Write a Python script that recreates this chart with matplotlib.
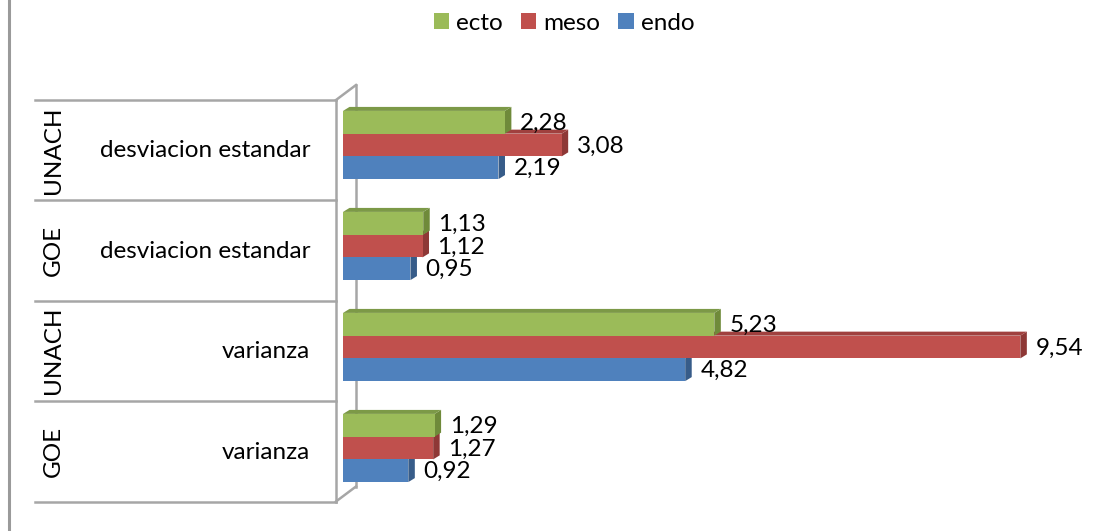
import matplotlib
matplotlib.use("Agg")
import matplotlib.pyplot as plt
from matplotlib.patches import Polygon, Patch

plt.rcParams['font.family'] = ['Lato', 'DejaVu Sans']

# ---- data (top-to-bottom order as shown) ----
groups = ["UNACH", "GOE", "UNACH", "GOE"]
measures = ["desviacion estandar", "desviacion estandar", "varianza", "varianza"]
series_names = ["ecto", "meso", "endo"]
ecto = [2.28, 1.13, 5.23, 1.29]
meso = [3.08, 1.12, 9.54, 1.27]
endo = [2.19, 0.95, 4.82, 0.92]

colors = {"ecto": "#9BBB59", "meso": "#C0504D", "endo": "#4F81BD"}
side_colors = {"ecto": "#6F8A3A", "meso": "#8E3836", "endo": "#375C89"}
top_colors = {"ecto": "#7C9947", "meso": "#A0403E", "endo": "#41699B"}

W, H = 1108, 531
DPI = 100
fig = plt.figure(figsize=(W / DPI, H / DPI), dpi=DPI)

def fx(px):
    return px / W

def fy(py):
    return 1 - py / H

# background overlay axes in pixel coordinates
bg = fig.add_axes([0, 0, 1, 1], zorder=0)
bg.set_xlim(0, W)
bg.set_ylim(H, 0)
bg.axis("off")

line_c = "#A6A6A6"
bg.plot([9, 9], [0, H], color="#9A9A9A", lw=2.2)
band_edges = [100, 199.5, 300.5, 401, 501.5]
for yb in band_edges:
    bg.plot([35, 336], [yb, yb], color=line_c, lw=1.8)
bg.plot([336, 336], [100, 501.5], color=line_c, lw=1.8)
bg.plot([356, 356], [85, 486.5], color=line_c, lw=1.8)
bg.plot([336, 356], [100, 85], color=line_c, lw=1.8)
bg.plot([336, 356], [501.5, 486.5], color=line_c, lw=1.8)

FS = 17.5
for i in range(4):
    yc = (band_edges[i] + band_edges[i + 1]) / 2
    bg.text(53.5, yc, groups[i], rotation=90, ha="center", va="center",
            fontsize=FS, color="black")
    bg.text(310, yc + 1, measures[i], ha="right", va="center", fontsize=FS,
            color="black")

# main axes: x value 0 at px 343, 71 px per unit; category spacing 101 px
ax_left, ax_w = 343, 710
ax_top, ax_h = 94.5, 404
ax = fig.add_axes([fx(ax_left), fy(ax_top + ax_h), ax_w / W, ax_h / H], zorder=1)
ax.patch.set_alpha(0)
ax.set_xlim(0, 10)
ax.set_ylim(-0.5, 3.5)
ax.axis("off")

px_x = 10 / ax_w
px_y = 4 / ax_h
ddx = 6.5 * px_x
ddy = 4.0 * px_y
h = 0.225

n = len(ecto)
centers = [n - 1 - i for i in range(n)]
order = [("endo", endo, -h), ("meso", meso, 0.0), ("ecto", ecto, h)]

z = 2
for name, vals, off in order:
    ys = [c + off for c in centers]
    ax.barh(ys, vals, height=h, color=colors[name], zorder=z, linewidth=0)
    for y, v in zip(ys, vals):
        top = y + h / 2
        bot = y - h / 2
        side = Polygon([[v, bot], [v, top], [v + ddx, top + ddy], [v + ddx, bot + ddy]],
                       closed=True, facecolor=side_colors[name], edgecolor="none",
                       zorder=z - 0.1)
        topf = Polygon([[0, top], [v, top], [v + ddx, top + ddy], [ddx, top + ddy]],
                       closed=True, facecolor=top_colors[name], edgecolor="none",
                       zorder=z - 0.1)
        ax.add_patch(side)
        ax.add_patch(topf)
        ax.annotate(f"{v:.2f}".replace(".", ","), xy=(v, y), xytext=(15, -1),
                    textcoords="offset pixels", ha="left", va="center",
                    fontsize=FS, color="black", zorder=10)
    z += 1

handles = [Patch(facecolor=colors[s], edgecolor="none") for s in series_names]
fig.legend(handles, series_names, loc="center", bbox_to_anchor=(fx(564), fy(23)),
           ncol=3, frameon=False, fontsize=FS, handlelength=0.62, handleheight=0.62,
           handletextpad=0.3, columnspacing=0.75, borderaxespad=0)

fig.savefig("out.png", dpi=DPI)
